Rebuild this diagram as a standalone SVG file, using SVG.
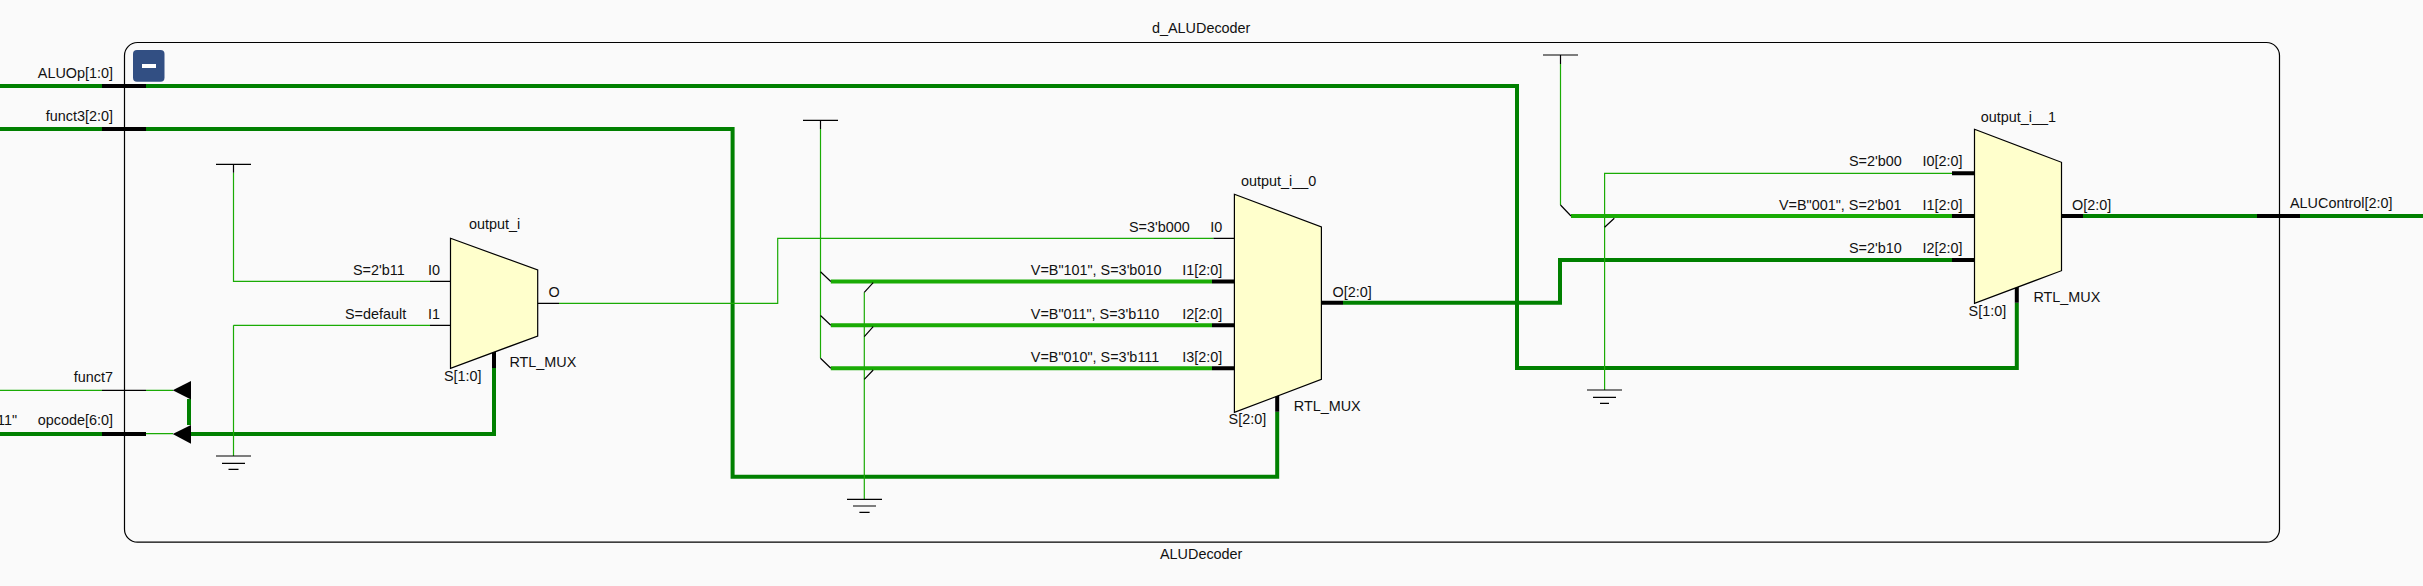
<svg xmlns="http://www.w3.org/2000/svg" width="2423" height="586" viewBox="0 0 2423 586">
<style>
text{font-family:"Liberation Sans",Arial,sans-serif;font-size:14.4px;fill:#111}
.e{text-anchor:end}
path,line,polygon{fill:none}
.frame{fill:#fafafa;stroke:#000;stroke-width:1.2}
.mux{fill:#ffffcc;stroke:#000;stroke-width:1.2;stroke-linejoin:miter}
.tg{stroke:#1aab05;stroke-width:1.2}
.lg{stroke:#1aab05;stroke-width:4}
.dg{stroke:#008000;stroke-width:4;stroke-linejoin:miter}
.tb{stroke:#000;stroke-width:1.2}
.bb{stroke:#000;stroke-width:4}
.tri{fill:#000}
</style>
<rect width="2423" height="586" fill="#fafafa"/>
<g id="d_ALUDecoder">
<rect class="frame" x="124.5" y="42.5" width="2155" height="499.7" rx="13" ry="13"/>
<text x="1152" y="32.7">d_ALUDecoder</text>
<text x="1160" y="558.7">ALUDecoder</text>
<rect x="133" y="50" width="31.5" height="31.7" rx="4" fill="#324f83"/>
<rect x="142" y="64" width="14" height="4" fill="#fff"/>
</g>
<g id="connectors">
<path class="dg" d="M0 86H1517V368H2016.8V302.7"/>
<path class="dg" d="M0 129H732.6V476.7H1277.2V411.7"/>
<path class="tg" d="M0 390.3H102"/>
<path class="tg" d="M146 390.3H173M146 433.7H173"/>
<path class="dg" d="M0 434H102"/>
<path class="dg" d="M189 399V425M191 434H494V368"/>
<path class="tg" d="M233.5 172.7V281.3H430M233.5 325.3H430M233.5 325.3V456"/>
<path class="tg" d="M559 303.3H777.7V238.3H1213.4"/>
<path class="tg" d="M820.5 129V358.3"/>
<path class="tg" d="M864.3 292.3V499.3"/>
<path class="lg" d="M830.8 281.5H1212M830.8 325.3H1212M830.8 368.3H1212"/>
<path class="dg" d="M1343 302.7H1560V260H1952"/>
<path class="tg" d="M1560.5 64V205"/>
<path class="lg" d="M1571 216H1952"/>
<path class="tg" d="M1952 173.3H1604.6V390"/>
<path class="dg" d="M2083 216H2257M2300 216H2423"/>
<path class="tb" d="M820.5 271.7L830.8 281.5M820.5 315.5L830.8 325.3M820.5 358.3L830.8 368.3M873.2 282.7L864.3 292.3M873.2 326.7L864.3 336.7M873.2 370L864.3 379.3M1560.5 205L1571 216M1614.3 218.3L1604.6 227.3"/>
<path class="bb" d="M102 86H146M102 129H146M102 434H146M494 368V351M1212 281.5H1234.4M1212 325.3H1234.4M1212 368.3H1234.4M1321.4 302.7H1343M1952 173.3H1974.5M1952 216H1974.5M1952 260H1974.5M2061.5 216H2083M2016.8 302.7V286M1277.2 411.7V394M2257 216H2300"/>
<path class="tb" d="M102 390.3H146M430 281.3H450.5M430 325.3H450.5M537.7 303.3H559M1213.4 238.3H1234.4"/>
<polygon class="tri" points="172.7,390.3 191,381 191,399.5"/>
<polygon class="tri" points="172.7,434 191,425 191,443.7"/>
</g>
<g id="ports">
<text class="e" x="113" y="77.5">ALUOp[1:0]</text>
<text class="e" x="113" y="120.5">funct3[2:0]</text>
<text class="e" x="113" y="381.7">funct7</text>
<text class="e" x="113" y="425">opcode[6:0]</text>
<text class="e" x="17" y="425">11"</text>
<text x="2290" y="207.7">ALUControl[2:0]</text>
</g>
<g id="const_top_1"><path class="tb" d="M216 164.3H251M233.5 164.3V172.7"/></g>
<g id="const_gnd_1"><path class="tb" d="M216 456H251M222 463.3H245M228.5 469.3H238.5"/></g>
<g id="const_top_2"><path class="tb" d="M803 120.3H838M820.5 120.3V129"/></g>
<g id="const_gnd_2"><path class="tb" d="M847 499.3H882M853 506H876M859.4 512.3H869.6"/></g>
<g id="const_top_3"><path class="tb" d="M1543 55H1578M1560.5 55V64"/></g>
<g id="const_gnd_3"><path class="tb" d="M1587 390H1622M1593 397.3H1616M1600 403.3H1609"/></g>
<g id="output_i">
<polygon class="mux" points="450.5,238.3 537.7,270 537.7,336 450.5,368.3"/>
<text x="469" y="229">output_i</text>
<text x="353" y="275.3">S=2'b11</text>
<text x="428" y="275.3">I0</text>
<text x="345" y="319.3">S=default</text>
<text x="428" y="319.3">I1</text>
<text x="548.4" y="296.7">O</text>
<text x="444" y="380.7">S[1:0]</text>
<text x="509.4" y="367.3">RTL_MUX</text>
</g>
<g id="output_i__0">
<polygon class="mux" points="1234.4,194.3 1321.4,227 1321.4,379.3 1234.4,412.3"/>
<text x="1241" y="186">output_i__0</text>
<text x="1129" y="232">S=3'b000</text>
<text class="e" x="1222.3" y="232">I0</text>
<text x="1030.8" y="275">V=B"101", S=3'b010</text>
<text class="e" x="1222.3" y="275">I1[2:0]</text>
<text x="1030.8" y="319">V=B"011", S=3'b110</text>
<text class="e" x="1222.3" y="319">I2[2:0]</text>
<text x="1030.8" y="362.3">V=B"010", S=3'b111</text>
<text class="e" x="1222.3" y="362.3">I3[2:0]</text>
<text x="1332.6" y="297.3">O[2:0]</text>
<text x="1228.6" y="424.3">S[2:0]</text>
<text x="1293.8" y="411">RTL_MUX</text>
</g>
<g id="output_i__1">
<polygon class="mux" points="1974.5,129.3 2061.5,162.3 2061.5,270.7 1974.5,303.3"/>
<text x="1980.8" y="121.7">output_i__1</text>
<text x="1849" y="166">S=2'b00</text>
<text class="e" x="1962.6" y="166">I0[2:0]</text>
<text x="1779" y="210">V=B"001", S=2'b01</text>
<text class="e" x="1962.6" y="210">I1[2:0]</text>
<text x="1849" y="252.7">S=2'b10</text>
<text class="e" x="1962.6" y="252.7">I2[2:0]</text>
<text x="2072" y="210">O[2:0]</text>
<text x="1968.6" y="315.7">S[1:0]</text>
<text x="2033.4" y="302.3">RTL_MUX</text>
</g>
</svg>
